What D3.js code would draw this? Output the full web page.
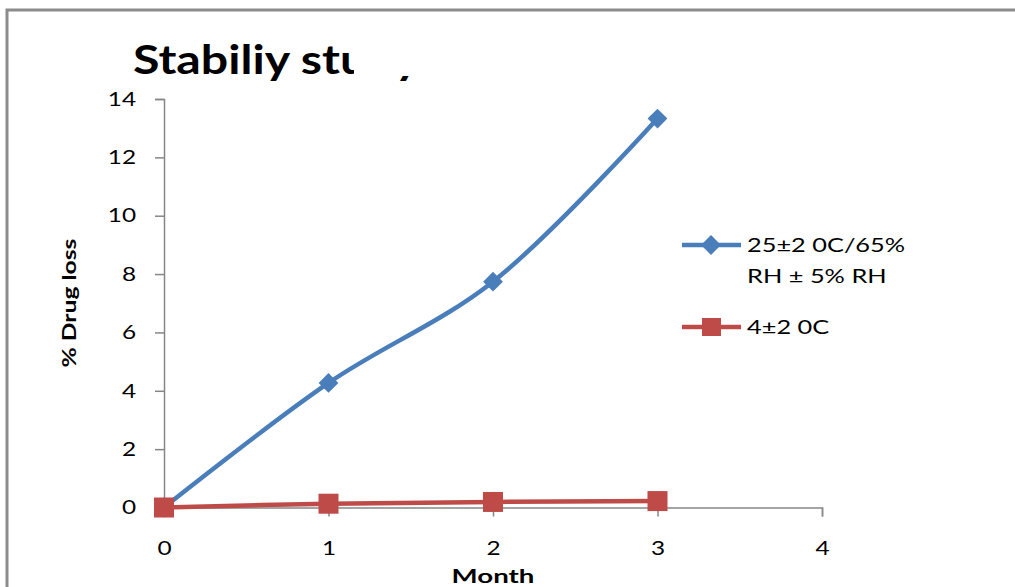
<!DOCTYPE html>
<html><head><meta charset="utf-8">
<script src="https://cdn.jsdelivr.net/npm/d3@7"></script>
<style>body{margin:0;background:#fff;} svg{display:block;font-family:Lato,"Open Sans",sans-serif;}</style>
</head><body>
<svg id="c" width="1015" height="587"></svg>
<script>
const months = [0, 1, 2, 3];
const series1Name = ["25±2 0C/65%", "RH ± 5% RH"];
const series1 = [0, 4.27, 7.74, 13.33];
const series2Name = ["4±2 0C"];
const series2 = [0, 0.13, 0.19, 0.22];
const yTicks = [0, 2, 4, 6, 8, 10, 12, 14];
const xTicks = [0, 1, 2, 3, 4];
const title = "Stabiliy study";
const xLabel = "Month";
const yLabel = "% Drug loss";

const svg = d3.select("#c");
const x = d3.scaleLinear().domain([0, 4]).range([164, 822]);
const y = d3.scaleLinear().domain([0, 14]).range([507.5, 99]);
const axisColor = "#868686";
const SX = 1.25;

function stext(g, tx, ty, str, size, bold, anchor, sx) {
  const t = g.append("g").attr("transform", `translate(${tx},${ty}) scale(${sx},1)`)
    .append("text").attr("font-size", size).attr("fill", "#000")
    .attr("text-anchor", anchor || "start").text(str);
  if (bold) t.attr("font-weight", "bold");
  return t;
}

// frame
svg.append("path").attr("d", "M7,587 V10 H1015").attr("fill", "none")
  .attr("stroke", "#8c8c8c").attr("stroke-width", 3);

// title (partially covered)
svg.append("text").attr("x", 133).attr("y", 74).attr("font-size", 40).attr("font-weight", "bold")
  .attr("textLength", 287).attr("lengthAdjust", "spacingAndGlyphs").attr("fill", "#000").text(title);
svg.append("rect").attr("x", 354).attr("y", 30).attr("width", 100).attr("height", 46).attr("fill", "#fff");

// axes
const yAxis = d3.axisLeft(y).tickValues(yTicks).tickSize(9).tickFormat(d3.format("d"));
const gy = svg.append("g").attr("transform", `translate(${x(0)},0)`).call(yAxis);
const xAxis = d3.axisBottom(x).tickValues(xTicks).tickSize(9).tickPadding(25).tickFormat(d3.format("d"));
const gx = svg.append("g").attr("transform", `translate(0,${y(0)})`).call(xAxis);
[gx, gy].forEach(g => {
  g.select(".domain").attr("stroke", axisColor).attr("stroke-width", 1.5);
  g.selectAll(".tick line").attr("stroke", axisColor).attr("stroke-width", 1.5);
  g.selectAll(".tick text").attr("font-size", 19.5).attr("fill", "#000").attr("font-family", "Lato, sans-serif");
});
gy.selectAll(".tick text").attr("x", -28 / SX).attr("transform", `scale(${SX},1)`);
gx.selectAll(".tick text").attr("transform", `scale(${SX},1)`);

// axis titles
svg.append("text").attr("transform", `translate(76,303) rotate(-90) scale(1.3,1)`).attr("text-anchor", "middle")
  .attr("font-size", 19).attr("font-weight", "bold").text(yLabel);
stext(svg, 493, 583, xLabel, 19.5, true, "middle", 1.42);

const line = d3.line().x((d, i) => x(months[i])).y(d => y(d)).curve(d3.curveCatmullRom.alpha(0.5));
const blue = "#4A7EBB", red = "#BE4B48";

svg.append("path").datum(series2).attr("d", line).attr("fill", "none").attr("stroke", red).attr("stroke-width", 4.5);
svg.append("path").datum(series1).attr("d", line).attr("fill", "none").attr("stroke", blue).attr("stroke-width", 4.5);

svg.selectAll(".dm").data(series1).join("rect")
  .attr("x", -7).attr("y", -7).attr("width", 14).attr("height", 14)
  .attr("transform", (d, i) => `translate(${x(months[i])},${y(d)}) rotate(45)`)
  .attr("fill", blue);
svg.selectAll(".sq").data(series2).join("rect")
  .attr("x", (d, i) => x(months[i]) - 10).attr("y", d => y(d) - 10)
  .attr("width", 20).attr("height", 20).attr("fill", red);

// legend
const lg = svg.append("g");
lg.append("line").attr("x1", 682).attr("x2", 741).attr("y1", 245).attr("y2", 245).attr("stroke", blue).attr("stroke-width", 4.5);
lg.append("rect").attr("x", -7).attr("y", -7).attr("width", 14).attr("height", 14)
  .attr("transform", "translate(711,245) rotate(45)").attr("fill", blue);
series1Name.forEach((t, i) => stext(lg, 747, 252 + i * 31, t, 19.5, false, "start", 1.3));
lg.append("line").attr("x1", 682).attr("x2", 741).attr("y1", 327).attr("y2", 327).attr("stroke", red).attr("stroke-width", 4.5);
lg.append("rect").attr("x", 702).attr("y", 318).attr("width", 19).attr("height", 18).attr("fill", red);
stext(lg, 747, 334, series2Name[0], 19.5, false, "start", 1.3);
</script>
</body></html>
